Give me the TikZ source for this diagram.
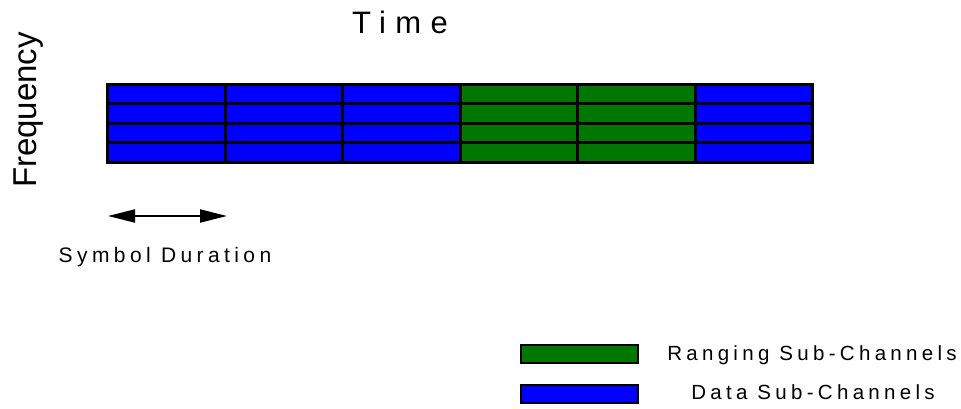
\documentclass[tikz,border=0pt]{standalone}
\usepackage{fontspec}
\setmainfont{Liberation Sans}
\newfontfamily\spacedfont[LetterSpace=21]{Liberation Sans}
\newfontfamily\widefont[LetterSpace=30]{Liberation Sans}
\usetikzlibrary{arrows.meta, positioning}
\definecolor{datablue}{RGB}{0,0,255}
\definecolor{rangegreen}{RGB}{0,119,0}

\begin{document}
\begin{tikzpicture}[x=1pt, y=-1pt,
    cell/.style={draw=black, line width=3pt, minimum width=117.5pt, minimum height=19.5pt, inner sep=0pt},
    keybox/.style={draw=black, line width=2pt, minimum width=117pt, minimum height=18pt, inner sep=0pt},
    spaced/.style={font=\spacedfont\fontsize{20.5}{24}\selectfont, inner sep=0pt}]
  \useasboundingbox (0,0) rectangle (961,409);

  % Sub-channel grid
  \foreach \c/\col in {0/datablue,1/datablue,2/datablue,3/rangegreen,4/rangegreen,5/datablue} {
    \foreach \r in {0,...,3} {
      \node[cell, fill=\col] (cell-\c-\r) at (107.5+117.5*\c+58.75, 84.5+19.5*\r+9.75) {};
    }
  }

  % Axis labels
  \node[rotate=90, inner sep=0pt, font=\fontsize{33}{40}\selectfont] (freq) at (28.5,110) {Frequency};
  \node[inner sep=0pt, anchor=base, font=\widefont\fontsize{31}{36}\selectfont] (time) at (400,34) {Time};

  % Symbol duration
  \coordinate (durstart) at (108,216);
  \coordinate (durend) at (227,216);
  \draw[{Triangle[length=27pt, width=13pt]}-{Triangle[length=27pt, width=13pt]}, line width=2pt] (durstart) -- (durend);
  \node[spaced, anchor=base, font=\spacedfont\fontsize{21}{25}\selectfont] (durtext) at (165,262) {Symbol Duration};

  % Legend
  \node[keybox, fill=rangegreen] (rangekey) at (579.5,354) {};
  \node[keybox, fill=datablue] (datakey) at (579.5,394) {};
  \node[spaced, anchor=base] (rangetext) at (812,360) {Ranging Sub-Channels};
  \node[spaced, anchor=base] (datatext) at (813,399.3) {Data Sub-Channels};
\end{tikzpicture}
\end{document}
